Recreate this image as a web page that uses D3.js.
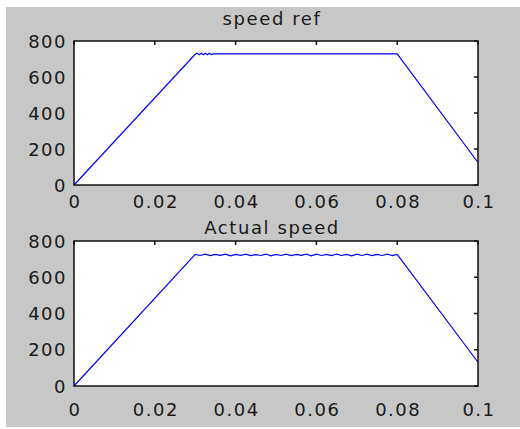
<!DOCTYPE html>
<html>
<head>
<meta charset="utf-8">
<script src="https://cdn.jsdelivr.net/npm/d3@7"></script>
<style>
  body { margin: 0; background: #fff; }
  text { font-family: "DejaVu Sans", "Liberation Sans", Arial, sans-serif; fill: #1a1a1a; }
</style>
</head>
<body>
<svg id="chart"></svg>
<script>
// x tick values and labels (time, s)
var xTicks = [0, 0.02, 0.04, 0.06, 0.08, 0.1];
var xTickLabels = ['0', '0.02', '0.04', '0.06', '0.08', '0.1'];
var yTicks = [0, 200, 400, 600, 800];
var yTickLabels = ['0', '200', '400', '600', '800'];

// speed ref
var refTime = [0, 0.030, 0.0305, 0.031, 0.0315, 0.032, 0.0325, 0.033, 0.0335, 0.034, 0.0345, 0.080, 0.100];
var refSpeed = [0, 726, 732, 724, 732, 724, 732, 724, 732, 724, 728, 728, 125];

// actual speed
var actTime = [0, 0.030,
  0.03125, 0.0325, 0.03375, 0.035, 0.03625, 0.0375, 0.03875, 0.040,
  0.04125, 0.0425, 0.04375, 0.045, 0.04625, 0.0475, 0.04875, 0.050,
  0.05125, 0.0525, 0.05375, 0.055, 0.05625, 0.0575, 0.05875, 0.060,
  0.06125, 0.0625, 0.06375, 0.065, 0.06625, 0.0675, 0.06875, 0.070,
  0.07125, 0.0725, 0.07375, 0.075, 0.07625, 0.0775, 0.07875, 0.080,
  0.100];
var actSpeed = [0, 726,
  720, 727, 719, 726, 721, 727, 718, 726,
  721, 727, 719, 725, 720, 728, 718, 726,
  720, 727, 719, 726, 721, 727, 718, 727,
  720, 726, 719, 728, 720, 726, 718, 727,
  720, 727, 719, 726, 720, 728, 719, 726,
  131];

var width = 520, height = 429;
var svg = d3.select('#chart')
  .attr('width', width)
  .attr('height', height);

// gray figure background
svg.append('rect')
  .attr('x', 6).attr('y', 7)
  .attr('width', 514).attr('height', 420)
  .attr('fill', '#c6c7c6');

var x = d3.scaleLinear().domain([0, 0.1]).range([74, 478]);

function drawPanel(top, bottom, title, titleY, labelY, times, speeds) {
  var y = d3.scaleLinear().domain([0, 800]).range([bottom, top]);
  var g = svg.append('g');

  g.append('rect')
    .attr('x', x(0)).attr('y', y(800))
    .attr('width', x(0.1) - x(0)).attr('height', y(0) - y(800))
    .attr('fill', '#fff');

  // line
  var pts = times.map(function(t, i) { return [t, speeds[i]]; });
  var line = d3.line()
    .x(function(d) { return x(d[0]); })
    .y(function(d) { return y(d[1]); });
  g.append('path')
    .datum(pts)
    .attr('d', line)
    .attr('fill', 'none')
    .attr('stroke', '#0000ff')
    .attr('stroke-width', 1.2);

  // inner ticks on top and right edges
  xTicks.forEach(function(t) {
    g.append('line')
      .attr('x1', x(t)).attr('x2', x(t))
      .attr('y1', y(800)).attr('y2', y(800) + 4)
      .attr('stroke', '#111').attr('stroke-width', 1.5);
  });
  yTicks.forEach(function(v) {
    g.append('line')
      .attr('x1', x(0.1)).attr('x2', x(0.1) - 4)
      .attr('y1', y(v)).attr('y2', y(v))
      .attr('stroke', '#111').attr('stroke-width', 1.5);
  });

  // frame
  g.append('rect')
    .attr('x', x(0)).attr('y', y(800))
    .attr('width', x(0.1) - x(0)).attr('height', y(0) - y(800))
    .attr('fill', 'none')
    .attr('stroke', '#111')
    .attr('stroke-width', 1.5);

  // tick labels
  xTicks.forEach(function(t, i) {
    g.append('text')
      .attr('x', x(t) + 1)
      .attr('y', labelY)
      .attr('text-anchor', 'middle')
      .attr('font-size', '18px')
      .attr('letter-spacing', '1.5px')
      .text(xTickLabels[i]);
  });
  yTicks.forEach(function(v, i) {
    g.append('text')
      .attr('x', 67)
      .attr('y', y(v) + 6.5)
      .attr('text-anchor', 'end')
      .attr('font-size', '18px')
      .attr('letter-spacing', '1.5px')
      .text(yTickLabels[i]);
  });

  // title
  g.append('text')
    .attr('x', 272)
    .attr('y', titleY)
    .attr('text-anchor', 'middle')
    .attr('font-size', '18px')
    .attr('letter-spacing', '1.6px')
    .text(title);
}

drawPanel(41, 185, 'speed ref', 25, 208, refTime, refSpeed);
drawPanel(241, 386, 'Actual speed', 234, 416, actTime, actSpeed);
</script>
</body>
</html>
